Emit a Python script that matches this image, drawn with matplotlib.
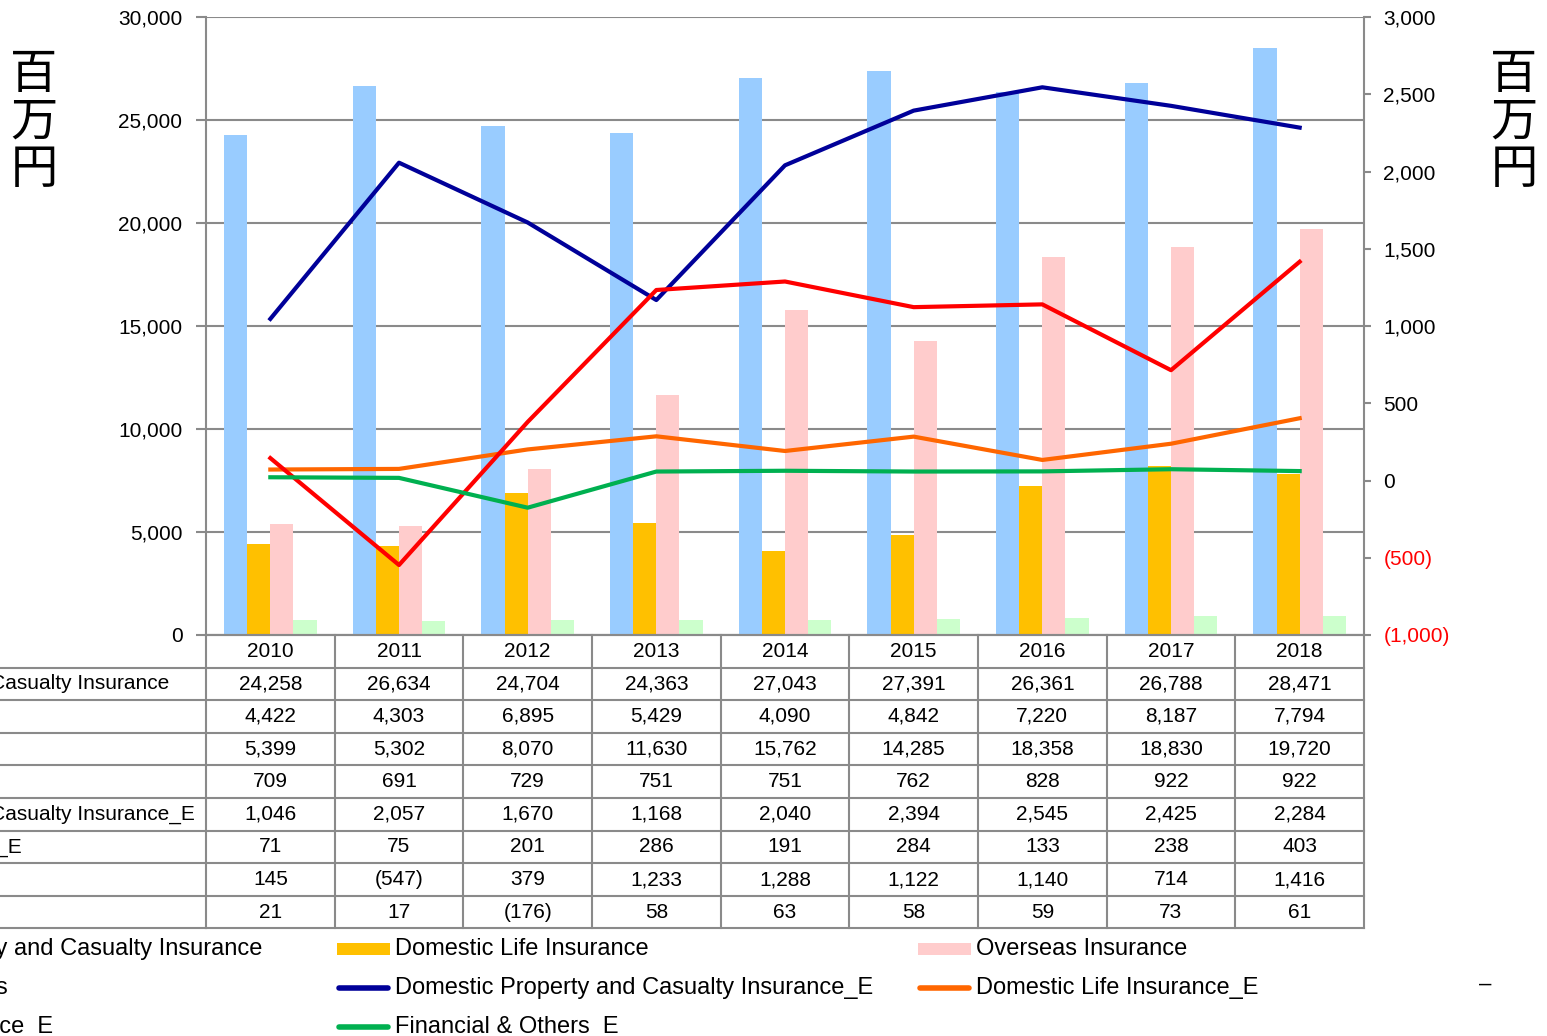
import matplotlib.pyplot as plt
import matplotlib.transforms as mtransforms
import matplotlib.font_manager as fm
from matplotlib.lines import Line2D
from matplotlib.patches import Rectangle
import numpy as np

years = ['2010', '2011', '2012', '2013', '2014', '2015', '2016', '2017', '2018']

# bars, left axis (million yen)
dom_pc = [24258, 26634, 24704, 24363, 27043, 27391, 26361, 26788, 28471]
dom_life = [4422, 4303, 6895, 5429, 4090, 4842, 7220, 8187, 7794]
overseas = [5399, 5302, 8070, 11630, 15762, 14285, 18358, 18830, 19720]
fin_other = [709, 691, 729, 751, 751, 762, 828, 922, 922]

# lines, right axis (million yen)
dom_pc_e = [1046, 2057, 1670, 1168, 2040, 2394, 2545, 2425, 2284]
dom_life_e = [71, 75, 201, 286, 191, 284, 133, 238, 403]
overseas_e = [145, -547, 379, 1233, 1288, 1122, 1140, 714, 1416]
fin_other_e = [21, 17, -176, 58, 63, 58, 59, 73, 61]

names = ['Domestic Property and Casualty Insurance', 'Domestic Life Insurance',
         'Overseas Insurance', 'Financial & Others',
         'Domestic Property and Casualty Insurance_E', 'Domestic Life Insurance_E',
         'Overseas Insurance_E', 'Financial & Others_E']
rows = [dom_pc, dom_life, overseas, fin_other, dom_pc_e, dom_life_e, overseas_e, fin_other_e]

bar_colors = ['#99CCFF', '#FFC000', '#FFCCCC', '#CCFFCC']
line_colors = ['#000099', '#FF6600', '#FF0000', '#00B050']
gray = '#8A8A8A'

font_names = {f.name for f in fm.fontManager.ttflist}
plt.rcParams['font.family'] = ['Liberation Sans', 'DejaVu Sans']
if 'Liberation Sans Narrow' in font_names:
    leg_font, leg_size = 'Liberation Sans Narrow', 21
else:
    leg_font, leg_size = 'Liberation Sans', 17

W, H = 1547, 1036
def fx(px):
    return px / W
def fy(py):
    return 1 - py / H

fig = plt.figure(figsize=(W / 100, H / 100), dpi=100)
ax = fig.add_axes([fx(206), fy(635), fx(1364) - fx(206), fy(17) - fy(635)])

x = np.arange(len(years))
bw = 0.18
for k, (vals, c) in enumerate(zip([dom_pc, dom_life, overseas, fin_other], bar_colors)):
    ax.bar(x + (k - 1.5) * bw, vals, bw, color=c, zorder=2)

ax.set_xlim(-0.5, len(years) - 0.5)
ax.set_ylim(0, 30000)
ax.set_yticks(range(0, 30001, 5000))
ax.set_yticklabels([f'{v:,}' for v in range(0, 30001, 5000)], fontsize=15)
ax.set_xticks([])
ax.grid(axis='y', color=gray, lw=1.5)
ax.set_axisbelow(True)
ax.tick_params(axis='y', length=7, width=1.5, color=gray, pad=10)
ax.spines['top'].set_visible(False)
ax.spines['right'].set_visible(False)
for s in ['left', 'bottom']:
    ax.spines[s].set_color(gray)
    ax.spines[s].set_linewidth(1.5)

ax2 = ax.twinx()
for vals, c in zip([dom_pc_e, dom_life_e, overseas_e, fin_other_e], line_colors):
    ax2.plot(x, vals, color=c, lw=3, solid_joinstyle='round', zorder=3)
ax2.set_ylim(-1000, 3000)
rticks = list(range(-1000, 3001, 500))
ax2.set_yticks(rticks)
ax2.set_yticklabels([f'({-v:,})' if v < 0 else f'{v:,}' for v in rticks], fontsize=15)
for lab, v in zip(ax2.get_yticklabels(), rticks):
    if v < 0:
        lab.set_color('#FF0000')
ax2.tick_params(axis='y', length=5, width=1.5, color=gray, pad=9)
for s in ['left', 'top', 'bottom']:
    ax2.spines[s].set_visible(False)
ax2.spines['right'].set_color(gray)
ax2.spines['right'].set_linewidth(1.5)

# data table under the plot
tr = mtransforms.blended_transform_factory(ax.transData, fig.transFigure)
rh = 32.6
top = 635
nrow = len(rows) + 1
for k in range(nrow + 1):
    yy = fy(top + k * rh)
    fig.add_artist(Line2D([-0.5, len(years) - 0.5], [yy, yy], transform=tr, color=gray, lw=1.5))
    if k >= 1:
        fig.add_artist(Line2D([0, fx(206)], [yy, yy], transform=fig.transFigure, color=gray, lw=1.5))
for i in range(len(years) + 1):
    fig.add_artist(Line2D([i - 0.5, i - 0.5], [fy(top), fy(top + nrow * rh)], transform=tr, color=gray, lw=1.5))

for i, yr in enumerate(years):
    fig.text(i, fy(top + 0.5 * rh), yr, transform=tr, ha='center', va='center', fontsize=15)
for r, (name, vals) in enumerate(zip(names, rows)):
    yc = fy(top + (r + 1.5) * rh)
    fig.text(fx(-228), yc, name, ha='left', va='center', fontsize=15)
    for i, v in enumerate(vals):
        s = f'({-v:,})' if v < 0 else f'{v:,}'
        fig.text(i, yc, s, transform=tr, ha='center', va='center', fontsize=15)

# legend, three columns
leg_items = [('bar', bar_colors[0], names[0]), ('bar', bar_colors[1], names[1]), ('bar', bar_colors[2], names[2]),
             ('bar', bar_colors[3], names[3]), ('line', line_colors[0], names[4]), ('line', line_colors[1], names[5]),
             ('line', line_colors[2], names[6]), ('line', line_colors[3], names[7])]
col_x = [-245, 337, 918]
row_y = [949, 988, 1027]
for n, (kind, c, label) in enumerate(leg_items):
    kx = col_x[n % 3]
    ky = row_y[n // 3]
    if kind == 'bar':
        fig.add_artist(Rectangle((fx(kx), fy(ky + 6)), fx(53), 12 / H, transform=fig.transFigure,
                                 facecolor=c, edgecolor='none'))
    else:
        fig.add_artist(Line2D([fx(kx + 2), fx(kx + 51)], [fy(ky), fy(ky)], transform=fig.transFigure,
                              color=c, lw=4, solid_capstyle='round'))
    fig.text(fx(kx + 58), fy(ky), label, ha='left', va='center', fontsize=leg_size, family=leg_font)

# unit labels
for px in [34, 1514]:
    fig.text(fx(px), fy(122), '百\n万\n円', ha='center', va='center', fontsize=34,
             family=['Noto Sans CJK JP', 'DejaVu Sans'], linespacing=0.98)

fig.text(fx(1485), fy(984), '–', ha='center', va='center', fontsize=16)

fig.savefig('out.png', dpi=100)
